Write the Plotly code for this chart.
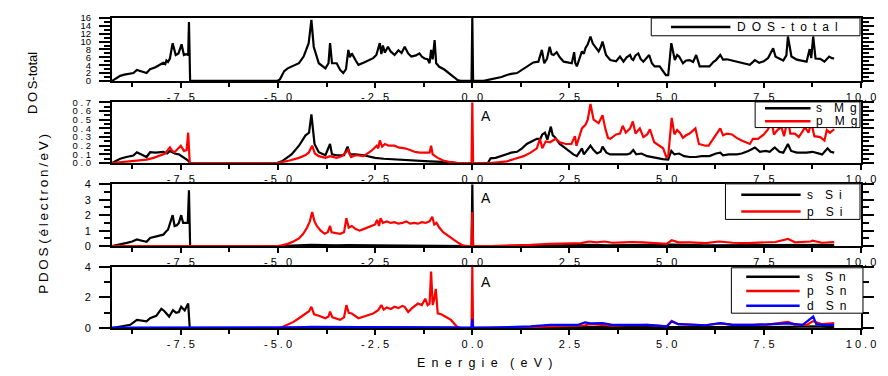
import plotly.graph_objects as go
from plotly.subplots import make_subplots

# ---------------- total density of states (states/eV) ----------------
E_TOT = [-9.27, -9.15, -9.06, -8.95, -8.85, -8.72, -8.63, -8.50, -8.38, -8.29, -8.15, -8.04,
         -7.95, -7.90, -7.87, -7.83, -7.78, -7.71, -7.63, -7.56, -7.48, -7.42, -7.36, -7.31,
         -7.29, -7.26, -5.02, -4.95, -4.90, -4.84, -4.75, -4.62, -4.46, -4.34, -4.21, -4.14,
         -4.08, -3.95, -3.85, -3.78, -3.70, -3.66, -3.61, -3.49, -3.40, -3.32, -3.25, -3.19,
         -3.15, -3.10, -3.00, -2.93, -2.80, -2.68, -2.55, -2.47, -2.42, -2.38, -2.34, -2.30,
         -2.25, -2.17, -2.10, -2.00, -1.90, -1.82, -1.74, -1.65, -1.57, -1.45, -1.36, -1.30,
         -1.23, -1.15, -1.10, -1.06, -1.02, -0.97, -0.93, -0.85, -0.72, -0.62, -0.55, -0.45,
         -0.38, -0.30, -0.02, 0.00, 0.02, 0.30, 0.38, 0.50, 0.64, 0.75, 0.89, 1.00, 1.15,
         1.25, 1.40, 1.50, 1.57, 1.70, 1.79, 1.85, 1.92, 1.99, 2.04, 2.09, 2.17, 2.25, 2.35,
         2.45, 2.56, 2.62, 2.65, 2.69, 2.75, 2.82, 2.87, 2.91, 2.97, 3.04, 3.10, 3.17, 3.25,
         3.30, 3.35, 3.44, 3.55, 3.70, 3.80, 3.89, 3.97, 4.06, 4.10, 4.14, 4.20, 4.27, 4.33,
         4.40, 4.48, 4.55, 4.62, 4.69, 4.82, 4.90, 4.98, 5.04, 5.12, 5.21, 5.27, 5.32, 5.42,
         5.50, 5.59, 5.68, 5.76, 5.85, 6.00, 6.10, 6.20, 6.27, 6.38, 6.45, 6.55, 6.68, 6.85,
         7.00, 7.14, 7.27, 7.38, 7.50, 7.61, 7.74, 7.80, 7.87, 8.00, 8.08, 8.12, 8.21, 8.35,
         8.50, 8.60, 8.68, 8.72, 8.77, 8.83, 8.95, 9.06, 9.18, 9.25, 9.31]
DOS_TOT = [0.0, 0.8, 1.3, 1.6, 1.8, 2.0, 2.8, 2.4, 2.0, 3.0, 3.5, 4.1,
           4.6, 4.3, 5.2, 4.8, 5.7, 9.6, 6.6, 7.0, 9.3, 6.6, 6.8, 6.6,
           15.0, 0.0, 0.0, 0.4, 1.2, 2.5, 3.2, 3.8, 4.5, 6.2, 9.6, 15.5,
           8.7, 4.5, 3.8, 3.2, 4.5, 9.6, 4.5, 4.5, 2.8, 2.0, 3.0, 7.9,
           6.0, 7.0, 5.2, 4.1, 4.6, 5.1, 5.8, 6.6, 8.2, 9.6, 6.8, 9.0,
           7.2, 8.7, 7.5, 6.6, 7.8, 7.1, 8.7, 7.0, 6.2, 6.5, 7.0, 6.2,
           5.7, 5.5, 4.5, 7.9, 5.5, 10.4, 4.5, 3.6, 2.9, 2.2, 1.6, 0.8,
           0.2, 0.0, 0.0, 16.0, 0.0, 0.0, 0.2, 0.4, 0.7, 1.0, 1.5, 1.8, 2.0,
           2.6, 3.7, 4.3, 4.7, 4.9, 7.9, 4.5, 5.6, 8.7, 6.8, 6.6, 7.3, 6.0, 4.9,
           4.7, 4.5, 7.3, 4.5, 3.7, 5.5, 7.5, 6.9, 8.3, 9.3, 11.3, 9.5, 8.7, 7.5,
           8.5, 10.0, 6.6, 5.3, 5.0, 6.2, 4.9, 6.0, 6.6, 5.6, 5.3, 6.5, 7.0, 5.6,
           4.9, 5.8, 6.6, 4.5, 3.7, 3.7, 2.6, 1.5, 1.5, 9.6, 5.3, 6.6, 6.2, 4.5,
           5.2, 5.3, 4.8, 6.6, 3.7, 3.7, 3.7, 4.8, 5.3, 6.6, 5.4, 5.5, 5.2, 4.9,
           4.5, 4.1, 5.3, 4.6, 5.0, 5.8, 8.3, 6.2, 5.8, 5.2, 6.5, 11.3, 6.2, 5.4,
           5.1, 4.9, 8.1, 5.8, 11.3, 5.7, 5.6, 4.9, 6.2, 5.8, 5.7]

# ---------------- Mg partial DOS ----------------
E_S_MG = [-9.27, -9.06, -8.90, -8.72, -8.63, -8.50, -8.38, -8.29, -8.15, -7.95, -7.85, -7.78,
          -7.66, -7.55, -7.48, -7.31, -7.26, -5.02, -4.90, -4.80, -4.65, -4.46, -4.29, -4.20,
          -4.14, -4.06, -3.95, -3.78, -3.66, -3.61, -3.49, -3.30, -3.21, -3.15, -3.00, -2.80,
          -2.50, -2.28, -1.77, -1.40, -1.10, -0.60, -0.38, 0.40, 0.47, 0.60, 0.72, 0.89, 1.00,
          1.15, 1.28, 1.40, 1.55, 1.66, 1.75, 1.80, 1.87, 1.93, 2.02, 2.07, 2.12, 2.25, 2.40,
          2.50, 2.60, 2.69, 2.75, 2.82, 2.87, 2.95, 3.04, 3.12, 3.21, 3.30, 3.35, 3.45, 3.55,
          3.75, 3.98, 4.06, 4.14, 4.22, 4.35, 4.50, 4.60, 4.74, 4.90, 5.04, 5.12, 5.20, 5.32,
          5.45, 5.59, 5.75, 5.90, 6.10, 6.27, 6.38, 6.45, 6.60, 6.80, 6.93, 7.10, 7.27, 7.40,
          7.55, 7.65, 7.78, 7.90, 8.00, 8.12, 8.20, 8.35, 8.50, 8.60, 8.75, 8.90, 9.00, 9.14,
          9.22, 9.31]
S_MG = [0.0, 0.05, 0.07, 0.087, 0.125, 0.10, 0.07, 0.125, 0.12, 0.13, 0.11, 0.14,
        0.11, 0.10, 0.08, 0.03, 0.0, 0.0, 0.02, 0.05, 0.10, 0.20, 0.32, 0.35,
        0.56, 0.22, 0.125, 0.09, 0.22, 0.10, 0.09, 0.09, 0.19, 0.10, 0.10, 0.09,
        0.06, 0.05, 0.035, 0.025, 0.02, 0.01, 0.0, 0.0, 0.055, 0.06, 0.08, 0.11, 0.12,
        0.13, 0.17, 0.22, 0.26, 0.28, 0.28, 0.33, 0.35, 0.27, 0.42, 0.32, 0.30, 0.22, 0.17,
        0.13, 0.10, 0.08, 0.12, 0.17, 0.10, 0.15, 0.20, 0.15, 0.11, 0.13, 0.19, 0.12, 0.10,
        0.10, 0.10, 0.11, 0.15, 0.10, 0.11, 0.08, 0.07, 0.055, 0.045, 0.04, 0.14, 0.10, 0.11,
        0.08, 0.07, 0.07, 0.08, 0.08, 0.11, 0.12, 0.09, 0.10, 0.10, 0.11, 0.14, 0.18, 0.13,
        0.14, 0.13, 0.18, 0.13, 0.12, 0.22, 0.14, 0.12, 0.12, 0.12, 0.13, 0.11, 0.10, 0.17,
        0.13, 0.12]

E_P_MG = [-9.27, -8.72, -8.38, -8.20, -8.04, -7.90, -7.78, -7.72, -7.66, -7.58, -7.50, -7.42,
          -7.35, -7.31, -7.27, -5.02, -4.90, -4.70, -4.46, -4.30, -4.21, -4.12, -4.05, -3.95,
          -3.78, -3.66, -3.49, -3.35, -3.19, -3.12, -3.00, -2.80, -2.60, -2.46, -2.42, -2.38,
          -2.32, -2.25, -2.15, -2.00, -1.90, -1.74, -1.60, -1.49, -1.35, -1.23, -1.10, -1.06,
          -1.02, -0.89, -0.75, -0.55, -0.38, -0.02, 0.00, 0.02, 0.47, 0.70, 0.89, 1.10, 1.32,
          1.50, 1.66, 1.74, 1.80, 1.89, 2.00, 2.07, 2.15, 2.25, 2.41, 2.55, 2.64, 2.68, 2.75,
          2.82, 2.91, 2.97, 3.04, 3.12, 3.25, 3.35, 3.42, 3.49, 3.55, 3.70, 3.80, 3.87, 3.95,
          4.06, 4.13, 4.20, 4.31, 4.40, 4.50, 4.57, 4.68, 4.80, 4.91, 4.99, 5.04, 5.13, 5.20,
          5.27, 5.34, 5.42, 5.50, 5.59, 5.74, 5.83, 6.00, 6.08, 6.20, 6.30, 6.38, 6.45, 6.55,
          6.68, 6.80, 6.93, 7.05, 7.14, 7.22, 7.35, 7.50, 7.61, 7.70, 7.76, 7.85, 7.95, 8.02,
          8.12, 8.18, 8.30, 8.40, 8.56, 8.65, 8.72, 8.80, 8.95, 9.06, 9.12, 9.20, 9.31]
P_MG = [0.0, 0.02, 0.04, 0.06, 0.087, 0.11, 0.18, 0.14, 0.125, 0.16, 0.20, 0.14,
        0.15, 0.35, 0.0, 0.0, 0.01, 0.03, 0.06, 0.09, 0.12, 0.20, 0.11, 0.08,
        0.06, 0.08, 0.06, 0.08, 0.15, 0.07, 0.09, 0.08, 0.14, 0.20, 0.17, 0.26,
        0.19, 0.22, 0.20, 0.20, 0.18, 0.17, 0.15, 0.13, 0.12, 0.12, 0.12, 0.20,
        0.10, 0.06, 0.03, 0.01, 0.0, 0.0, 0.70, 0.0, 0.0, 0.01, 0.02, 0.05, 0.08,
        0.12, 0.17, 0.28, 0.17, 0.25, 0.24, 0.26, 0.28, 0.24, 0.22, 0.22, 0.31, 0.20, 0.30,
        0.40, 0.44, 0.50, 0.68, 0.50, 0.46, 0.55, 0.40, 0.29, 0.28, 0.33, 0.34, 0.43, 0.35,
        0.40, 0.48, 0.34, 0.40, 0.30, 0.33, 0.39, 0.24, 0.20, 0.17, 0.07, 0.08, 0.52, 0.33,
        0.38, 0.35, 0.29, 0.32, 0.34, 0.40, 0.22, 0.20, 0.20, 0.28, 0.35, 0.40, 0.32, 0.34,
        0.33, 0.29, 0.26, 0.24, 0.22, 0.28, 0.28, 0.33, 0.39, 0.48, 0.33, 0.38, 0.42, 0.31,
        0.52, 0.34, 0.34, 0.30, 0.41, 0.35, 0.47, 0.31, 0.30, 0.26, 0.38, 0.35, 0.39]

# ---------------- Si partial DOS ----------------
E_S_SI = [-9.27, -9.00, -8.89, -8.75, -8.63, -8.50, -8.38, -8.29, -8.15, -7.95, -7.88, -7.83,
          -7.71, -7.66, -7.60, -7.55, -7.49, -7.44, -7.38, -7.32, -7.29, -7.26, -5.00, -4.50,
          -4.14, -3.50, -3.20, -2.50, -2.00, -1.00, -0.30, -0.02, 0.00, 0.02, 0.50, 1.00,
          1.80, 2.50, 3.00, 3.50, 4.50, 5.10, 6.00, 7.00, 8.10, 9.31]
S_SI = [0.0, 0.12, 0.21, 0.30, 0.43, 0.35, 0.28, 0.53, 0.60, 0.74, 0.95, 1.06,
        2.0, 1.3, 1.35, 1.5, 2.0, 1.5, 1.5, 1.5, 3.6, 0.0, 0.0, 0.03,
        0.08, 0.05, 0.07, 0.06, 0.05, 0.04, 0.0, 0.0, 4.0, 0.0, 0.0, 0.02,
        0.06, 0.05, 0.08, 0.06, 0.07, 0.10, 0.06, 0.07, 0.10, 0.08]

E_P_SI = [-9.27, -5.00, -4.90, -4.75, -4.60, -4.46, -4.35, -4.25, -4.18, -4.12, -4.06, -4.00,
          -3.90, -3.80, -3.72, -3.66, -3.62, -3.50, -3.40, -3.30, -3.24, -3.18, -3.10, -3.00,
          -2.90, -2.80, -2.70, -2.60, -2.50, -2.45, -2.40, -2.36, -2.30, -2.20, -2.10, -2.00,
          -1.90, -1.80, -1.70, -1.60, -1.50, -1.40, -1.30, -1.20, -1.10, -1.03, -0.98, -0.92,
          -0.85, -0.75, -0.65, -0.50, -0.35, -0.25, -0.15, -0.02, 0.00, 0.02, 0.50, 1.00,
          1.50, 2.00, 2.50, 2.80, 3.00, 3.20, 3.40, 3.60, 3.90, 4.10, 4.40, 4.70, 5.00, 5.13,
          5.30, 5.60, 6.00, 6.35, 6.70, 7.10, 7.60, 7.80, 8.12, 8.30, 8.70, 8.75, 9.00, 9.31]
P_SI = [0.0, 0.0, 0.05, 0.15, 0.30, 0.50, 0.80, 1.20, 1.60, 2.20, 1.60, 1.30,
        1.00, 0.80, 0.90, 1.30, 0.90, 0.85, 0.80, 0.90, 1.80, 1.20, 1.30, 1.10,
        1.00, 1.10, 1.20, 1.35, 1.40, 1.70, 1.30, 1.80, 1.50, 1.60, 1.50, 1.55,
        1.45, 1.50, 1.60, 1.45, 1.50, 1.45, 1.55, 1.50, 1.60, 1.90, 1.40, 1.50,
        1.20, 0.90, 0.70, 0.45, 0.20, 0.05, 0.0, 0.0, 2.20, 0.0, 0.0, 0.03,
        0.08, 0.15, 0.18, 0.20, 0.30, 0.25, 0.30, 0.22, 0.25, 0.27, 0.25, 0.22, 0.15, 0.38,
        0.25, 0.24, 0.20, 0.30, 0.22, 0.20, 0.25, 0.27, 0.47, 0.25, 0.30, 0.36, 0.22, 0.27]

# ---------------- Sn partial DOS ----------------
E_S_SN = [-9.27, -9.00, -8.80, -8.63, -8.50, -8.38, -8.29, -8.13, -8.00, -7.92, -7.80, -7.70,
          -7.62, -7.55, -7.49, -7.40, -7.31, -7.27, -5.00, -4.50, -4.14, -3.50, -2.50, -1.50,
          -0.50, -0.30, 0.50, 1.50, 2.50, 3.00, 4.00, 5.10, 6.00, 7.00, 8.10, 8.77, 9.31]
S_SN = [0.0, 0.10, 0.21, 0.53, 0.50, 0.43, 0.64, 0.80, 1.26, 1.10, 0.75, 1.17,
        1.00, 1.05, 1.39, 1.15, 1.60, 0.0, 0.0, 0.03, 0.06, 0.04, 0.05, 0.04,
        0.02, 0.0, 0.0, 0.03, 0.04, 0.06, 0.05, 0.07, 0.05, 0.06, 0.07, 0.10, 0.06]

E_P_SN = [-9.27, -5.00, -4.90, -4.75, -4.60, -4.46, -4.29, -4.20, -4.14, -4.07, -3.95, -3.78,
          -3.70, -3.66, -3.60, -3.50, -3.40, -3.30, -3.24, -3.18, -3.10, -2.93, -2.80, -2.68,
          -2.55, -2.42, -2.34, -2.28, -2.20, -2.10, -2.00, -1.90, -1.80, -1.74, -1.65, -1.55,
          -1.45, -1.40, -1.30, -1.21, -1.15, -1.10, -1.06, -1.02, -0.98, -0.94, -0.89, -0.80,
          -0.70, -0.55, -0.40, -0.30, -0.02, 0.00, 0.02, 0.60, 1.00, 1.50, 2.00, 2.50, 2.90,
          3.04, 3.30, 3.60, 4.00, 4.50, 5.00, 5.13, 5.30, 5.70, 6.00, 6.38, 6.70, 7.20, 7.60,
          8.12, 8.30, 8.60, 8.77, 9.00, 9.20, 9.31]
P_SN = [0.0, 0.0, 0.05, 0.20, 0.40, 0.64, 0.96, 1.10, 1.39, 0.90, 0.80, 0.64,
        0.75, 1.07, 0.70, 0.60, 0.53, 0.70, 1.50, 1.00, 0.95, 0.64, 0.75, 0.85,
        0.95, 1.17, 1.50, 1.20, 1.35, 1.25, 1.39, 1.30, 1.45, 1.39, 1.05, 1.30,
        1.50, 1.60, 1.50, 1.92, 1.50, 1.60, 3.70, 1.50, 1.90, 2.56, 0.96, 0.90,
        0.75, 0.53, 0.10, 0.0, 0.0, 4.0, 0.0, 0.0, 0.03, 0.06, 0.10, 0.12, 0.18,
        0.25, 0.20, 0.15, 0.18, 0.20, 0.10, 0.47, 0.25, 0.20, 0.18, 0.30, 0.20, 0.20, 0.22,
        0.40, 0.22, 0.20, 0.45, 0.25, 0.32, 0.32]

E_D_SN = [-9.27, -5.00, -4.50, -4.14, -3.00, -2.00, -1.00, -0.30, -0.02, 0.00, 0.02, 0.50,
          1.00, 1.50, 2.00, 2.50, 2.70, 2.90, 3.04, 3.35, 3.60, 4.00, 4.50, 5.00, 5.13, 5.30,
          5.60, 6.00, 6.38, 6.70, 7.20, 7.60, 8.12, 8.50, 8.77, 8.85, 9.00, 9.31]
D_SN = [0.02, 0.02, 0.05, 0.08, 0.06, 0.05, 0.06, 0.03, 0.03, 0.60, 0.03, 0.03,
        0.05, 0.10, 0.20, 0.22, 0.20, 0.36, 0.30, 0.32, 0.20, 0.21, 0.20, 0.10, 0.43, 0.25,
        0.22, 0.18, 0.32, 0.20, 0.20, 0.24, 0.30, 0.20, 0.75, 0.25, 0.20, 0.21]

# ---------------- axis ticks ----------------
X_TICKS = [-7.5, -5.0, -2.5, 0.0, 2.5, 5.0, 7.5, 10.0]
X_TICK_TEXT = ["- 7 . 5", "- 5 . 0", "- 2 . 5", "0 . 0", "2 . 5", "5 . 0", "7 . 5", "1 0 . 0"]
Y1_TICKS = [0, 2, 4, 6, 8, 10, 12, 14, 16]
Y1_TICK_TEXT = ["0", "2", "4", "6", "8", "10", "12", "14", "16"]
Y2_TICKS = [0.0, 0.1, 0.2, 0.3, 0.4, 0.5, 0.6, 0.7]
Y2_TICK_TEXT = ["0 . 0", "0 . 1", "0 . 2", "0 . 3", "0 . 4", "0 . 5", "0 . 6", "0 . 7"]
Y3_TICKS = [0, 1, 2, 3, 4]
Y4_TICKS = [0, 2, 4]

BLACK, RED, BLUE = "#000000", "#ff0000", "#0000ff"
FONT = "Arial, Liberation Sans, sans-serif"
EN = "\u2002"
EM = "\u2003"
THIN = "\u2009"

# figure geometry (pixels)
W, H = 888, 376
ML, MR, MT, MB = 112, 19, 14, 48
PW, PH = W - ML - MR, H - MT - MB


def spread(text, gap):
    """Insert a fixed gap between characters (letter-spaced labels)."""
    return gap.join(text)


def px(x):
    return (x - ML) / PW


def py(y):
    return 1 - (y - MT) / PH


fig = make_subplots(rows=4, cols=1)

series = [
    (1, E_TOT, DOS_TOT, BLACK, spread("DOS", EN) + EN + spread("-total", EN)),
    (2, E_S_MG, S_MG, BLACK, "s" + EM + "M" + EN + "g"),
    (2, E_P_MG, P_MG, RED, "p" + EM + "M" + EN + "g"),
    (3, E_S_SI, S_SI, BLACK, "s" + EM + "S" + EN + "i"),
    (3, E_P_SI, P_SI, RED, "p" + EM + "S" + EN + "i"),
    (4, E_S_SN, S_SN, BLACK, "s" + EM + "S" + EN + "n"),
    (4, E_P_SN, P_SN, RED, "p" + EM + "S" + EN + "n"),
    (4, E_D_SN, D_SN, BLUE, "d" + EM + "S" + EN + "n"),
]
for row, xs, ys, color, name in series:
    fig.add_trace(
        go.Scatter(x=xs, y=ys, mode="lines", name=name, showlegend=False,
                   line=dict(color=color, width=2.2)),
        row=row, col=1,
    )

domains = [[0.797, 1.0], [0.532, 0.728], [0.264, 0.464], [0.0, 0.197]]
y_specs = [
    dict(range=[0, 16], tickvals=Y1_TICKS, ticktext=Y1_TICK_TEXT, minor=dict(dtick=1)),
    dict(range=[0, 0.7], tickvals=Y2_TICKS, ticktext=Y2_TICK_TEXT, minor=dict(dtick=0.05)),
    dict(range=[0, 4], tickvals=Y3_TICKS, minor=dict(dtick=0.5)),
    dict(range=[0, 4], tickvals=Y4_TICKS, minor=dict(dtick=1)),
]

for i in range(4):
    sfx = "" if i == 0 else str(i + 1)
    fig.layout["xaxis" + sfx].update(
        range=[-9.27, 10.0], tickvals=X_TICKS, ticktext=X_TICK_TEXT,
        ticks="outside", ticklen=5, tickwidth=1.5, tickcolor=BLACK,
        minor=dict(tick0=-8.75, dtick=1.25, ticks="outside", ticklen=4, tickwidth=1.5, tickcolor=BLACK),
        showline=True, linewidth=2, linecolor=BLACK, mirror=True,
        showgrid=False, zeroline=False,
        tickfont=dict(family=FONT, size=11, color=BLACK),
    )
    spec = y_specs[i]
    minor = dict(ticks="outside", ticklen=6, tickwidth=1.5, tickcolor=BLACK, **spec.pop("minor"))
    fig.layout["yaxis" + sfx].update(
        domain=domains[i], ticks="outside", ticklen=11, tickwidth=1.5, tickcolor=BLACK,
        minor=minor, showline=True, linewidth=2, linecolor=BLACK, mirror="ticks",
        showgrid=False, zeroline=False, ticklabelstandoff=6,
        tickfont=dict(family=FONT, size=9.5 if i < 2 else 11, color=BLACK), **spec,
    )

# boxed keys, one per panel: (box left, top, right, bottom, line x0, line x1, text x, rows)
KEYS = [
    (657, 14, 868, 32, 677, 737, 742, [(23, 0)]),
    (762, 99, 868, 125, 772, 818, 821, [(105.5, 1), (118.5, 2)]),
    (732, 182, 868, 218, 748, 808, 812, [(193, 3), (210, 4)]),
    (738, 267, 871, 313, 753, 807, 812, [(276, 5), (290.5, 6), (305.5, 7)]),
]
for bx0, by0, bx1, by1, lx0, lx1, tx, rows in KEYS:
    fig.add_shape(type="rect", xref="paper", yref="paper",
                  x0=px(bx0), x1=px(bx1), y0=py(by1), y1=py(by0),
                  line=dict(color=BLACK, width=1), fillcolor="white", layer="above")
    for yy, k in rows:
        color, name = series[k][3], series[k][4]
        fig.add_shape(type="line", xref="paper", yref="paper",
                      x0=px(lx0), x1=px(lx1), y0=py(yy), y1=py(yy),
                      line=dict(color=color, width=2.5), layer="above")
        fig.add_annotation(x=px(tx), y=py(yy), xref="paper", yref="paper", text=name,
                           showarrow=False, xanchor="left", yanchor="middle",
                           font=dict(family=FONT, size=12, color=BLACK))

# level label near the Fermi energy in the partial-DOS panels
for yref, yv in (("y2", 0.545), ("y3", 3.1), ("y4", 3.0)):
    fig.add_annotation(x=0.18, y=yv, xref=yref.replace("y", "x"), yref=yref, text="A",
                       showarrow=False, xanchor="left", yanchor="middle",
                       font=dict(family=FONT, size=14, color=BLACK))

fig.add_annotation(x=px(22), y=py(46), xref="paper", yref="paper", textangle=-90,
                   text=spread("DOS", THIN) + "-total", showarrow=False,
                   font=dict(family=FONT, size=13, color=BLACK))
fig.add_annotation(x=px(33), y=py(212), xref="paper", yref="paper", textangle=-90,
                   text=spread("PDOS", THIN) + " " + spread("(électron/eV)", THIN), showarrow=False,
                   font=dict(family=FONT, size=13.5, color=BLACK))
fig.add_annotation(x=px(488), y=py(363), xref="paper", yref="paper",
                   text=spread("Energie", EN) + EN + EN + spread("(eV)", EN), showarrow=False,
                   yanchor="middle", font=dict(family=FONT, size=12.5, color=BLACK))

fig.update_layout(
    width=W, height=H, margin=dict(l=ML, r=MR, t=MT, b=MB),
    paper_bgcolor="white", plot_bgcolor="white", showlegend=False,
    font=dict(family=FONT, color=BLACK),
)

fig.write_html("out.html")
